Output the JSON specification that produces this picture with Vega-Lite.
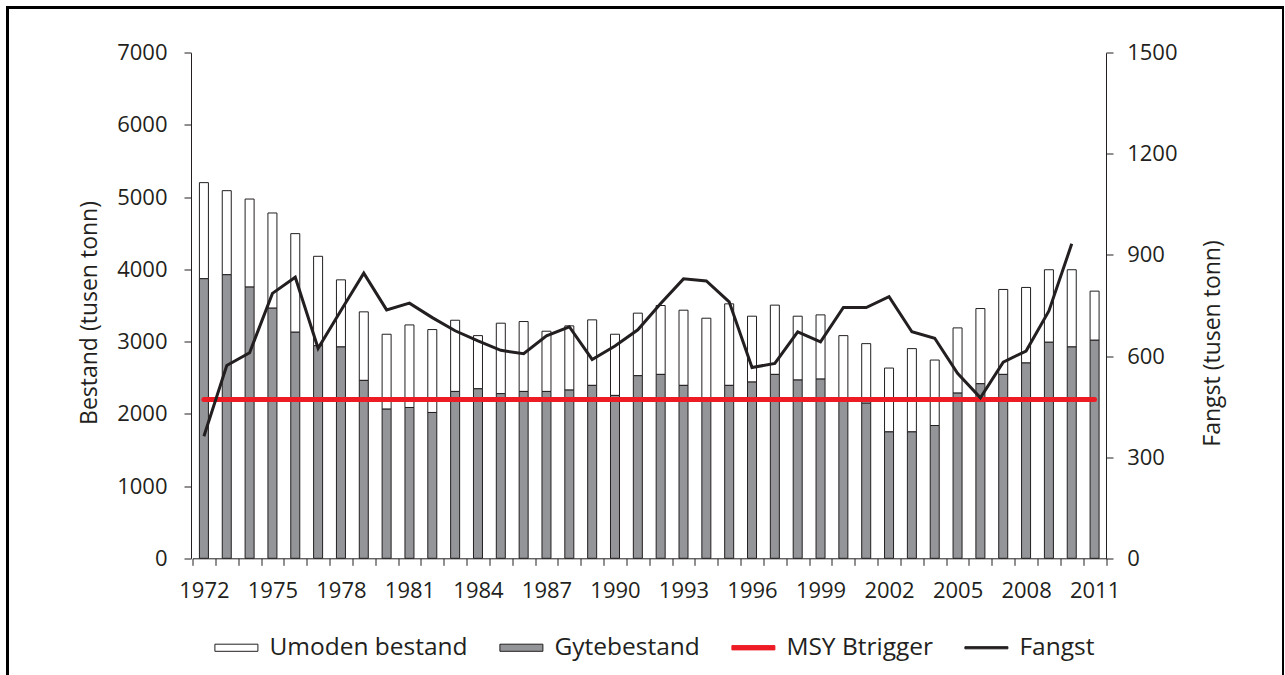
{
  "$schema": "https://vega.github.io/schema/vega-lite/v6.json",
  "width": 1276,
  "height": 667.5,
  "autosize": {"type": "none"},
  "padding": {"left": 7.5, "top": 7.5, "right": 0, "bottom": 0},
  "background": "#ffffff",
  "config": {
    "view": {"stroke": "#000000", "strokeWidth": 3, "strokeDash": [1943.5, 1276, 800]},
    "font": "Open Sans",
    "axis": {
      "labelFont": "Open Sans", "titleFont": "Open Sans",
      "labelColor": "#231f20", "titleColor": "#231f20",
      "domainColor": "#231f20", "tickColor": "#231f20",
      "grid": false, "titleFontWeight": "normal",
      "labelFontSize": 22, "titleFontSize": 23,
      "tickSize": 7, "domainWidth": 1, "tickWidth": 1
    }
  },
  "datasets": {
    "main": [
      {"year": 1972, "total": 5201, "gyte": 3871, "fangst": 362},
      {"year": 1973, "total": 5090, "gyte": 3926, "fangst": 572},
      {"year": 1974, "total": 4974, "gyte": 3755, "fangst": 610},
      {"year": 1975, "total": 4781, "gyte": 3463, "fangst": 786},
      {"year": 1976, "total": 4495, "gyte": 3130, "fangst": 834},
      {"year": 1977, "total": 4181, "gyte": 2944, "fangst": 623},
      {"year": 1978, "total": 3855, "gyte": 2926, "fangst": 735},
      {"year": 1979, "total": 3412, "gyte": 2463, "fangst": 846},
      {"year": 1980, "total": 3102, "gyte": 2065, "fangst": 737},
      {"year": 1981, "total": 3231, "gyte": 2088, "fangst": 757},
      {"year": 1982, "total": 3167, "gyte": 2019, "fangst": 714},
      {"year": 1983, "total": 3296, "gyte": 2310, "fangst": 675},
      {"year": 1984, "total": 3083, "gyte": 2347, "fangst": 645},
      {"year": 1985, "total": 3255, "gyte": 2280, "fangst": 617},
      {"year": 1986, "total": 3278, "gyte": 2310, "fangst": 607},
      {"year": 1987, "total": 3144, "gyte": 2310, "fangst": 660},
      {"year": 1988, "total": 3218, "gyte": 2329, "fangst": 687},
      {"year": 1989, "total": 3301, "gyte": 2394, "fangst": 590},
      {"year": 1990, "total": 3102, "gyte": 2255, "fangst": 630},
      {"year": 1991, "total": 3394, "gyte": 2528, "fangst": 678},
      {"year": 1992, "total": 3500, "gyte": 2546, "fangst": 756},
      {"year": 1993, "total": 3435, "gyte": 2394, "fangst": 829},
      {"year": 1994, "total": 3324, "gyte": 2190, "fangst": 823},
      {"year": 1995, "total": 3523, "gyte": 2394, "fangst": 761},
      {"year": 1996, "total": 3352, "gyte": 2440, "fangst": 566},
      {"year": 1997, "total": 3505, "gyte": 2546, "fangst": 578},
      {"year": 1998, "total": 3352, "gyte": 2468, "fangst": 672},
      {"year": 1999, "total": 3370, "gyte": 2481, "fangst": 642},
      {"year": 2000, "total": 3083, "gyte": 2180, "fangst": 744},
      {"year": 2001, "total": 2972, "gyte": 2148, "fangst": 744},
      {"year": 2002, "total": 2634, "gyte": 1750, "fangst": 776},
      {"year": 2003, "total": 2903, "gyte": 1750, "fangst": 672},
      {"year": 2004, "total": 2745, "gyte": 1838, "fangst": 653},
      {"year": 2005, "total": 3190, "gyte": 2287, "fangst": 549},
      {"year": 2006, "total": 3458, "gyte": 2417, "fangst": 476},
      {"year": 2007, "total": 3722, "gyte": 2546, "fangst": 582},
      {"year": 2008, "total": 3750, "gyte": 2704, "fangst": 615},
      {"year": 2009, "total": 3995, "gyte": 2991, "fangst": 734},
      {"year": 2010, "total": 3995, "gyte": 2926, "fangst": 933},
      {"year": 2011, "total": 3699, "gyte": 3019, "fangst": null}
    ],
    "legend": [
      {"series": "Umoden bestand"},
      {"series": "Gytebestand"},
      {"series": "MSY Btrigger"},
      {"series": "Fangst"}
    ]
  },
  "data": {"name": "main"},
  "layer": [
    {
      "layer": [
        {
          "mark": {"type": "bar", "fill": "#ffffff", "stroke": "#231f20", "strokeWidth": 1, "size": 9},
          "encoding": {
            "x": {"field": "year", "type": "ordinal",
              "scale": {"range": [185, 1098.5], "paddingInner": 0, "paddingOuter": 0},
              "axis": {"offset": -116.7, "tickBand": "extent", "labelExpr": "(datum.value - 1972) % 3 == 0 ? datum.label : ''", "labelAngle": 0, "labelPadding": 14.7, "title": null, "labelOverlap": false}},
            "y": {"field": "total", "type": "quantitative",
              "scale": {"domain": [0, 7000], "range": [550.8, 45.2], "nice": false},
              "axis": {"orient": "left", "offset": -183.5, "values": [0, 1000, 2000, 3000, 4000, 5000, 6000, 7000], "format": "d",
                "title": "Bestand (tusen tonn)", "titleAngle": 270, "titleX": -95, "titleY": 305, "titleBaseline": "alphabetic", "titleAlign": "center", "labelPadding": 17}},
            "y2": {"field": "gyte"}
          }
        },
        {
          "mark": {"type": "bar", "fill": "#939598", "stroke": "#231f20", "strokeWidth": 1, "size": 9},
          "encoding": {
            "x": {"field": "year", "type": "ordinal",
              "scale": {"range": [185, 1098.5], "paddingInner": 0, "paddingOuter": 0},
              "axis": {"offset": -116.7, "tickBand": "extent", "labelExpr": "(datum.value - 1972) % 3 == 0 ? datum.label : ''", "labelAngle": 0, "labelPadding": 14.7, "title": null, "labelOverlap": false}},
            "y": {"field": "gyte", "type": "quantitative",
              "scale": {"domain": [0, 7000], "range": [550.8, 45.2], "nice": false},
              "axis": {"orient": "left", "offset": -183.5, "values": [0, 1000, 2000, 3000, 4000, 5000, 6000, 7000], "format": "d",
                "title": "Bestand (tusen tonn)", "titleAngle": 270, "titleX": -95, "titleY": 305, "titleBaseline": "alphabetic", "titleAlign": "center", "labelPadding": 17}}
          }
        },
        {
          "mark": {"type": "line", "color": "#ed1c24", "strokeWidth": 5, "strokeCap": "round"},
          "encoding": {
            "x": {"field": "year", "type": "ordinal",
              "scale": {"range": [185, 1098.5], "paddingInner": 0, "paddingOuter": 0},
              "axis": {"offset": -116.7, "tickBand": "extent", "labelExpr": "(datum.value - 1972) % 3 == 0 ? datum.label : ''", "labelAngle": 0, "labelPadding": 14.7, "title": null, "labelOverlap": false}},
            "y": {"datum": 2200, "type": "quantitative",
              "scale": {"domain": [0, 7000], "range": [550.8, 45.2], "nice": false},
              "axis": {"orient": "left", "offset": -183.5, "values": [0, 1000, 2000, 3000, 4000, 5000, 6000, 7000], "format": "d",
                "title": "Bestand (tusen tonn)", "titleAngle": 270, "titleX": -95, "titleY": 305, "titleBaseline": "alphabetic", "titleAlign": "center", "labelPadding": 17}}
          }
        }
      ]
    },
    {
      "mark": {"type": "line", "color": "#231f20", "strokeWidth": 3},
      "encoding": {
        "x": {"field": "year", "type": "ordinal",
          "scale": {"range": [185, 1098.5], "paddingInner": 0, "paddingOuter": 0},
          "axis": {"offset": -116.7, "tickBand": "extent", "labelExpr": "(datum.value - 1972) % 3 == 0 ? datum.label : ''", "labelAngle": 0, "labelPadding": 14.7, "title": null, "labelOverlap": false}},
        "y": {"field": "fangst", "type": "quantitative",
          "scale": {"domain": [0, 1500], "range": [550.8, 45.2], "nice": false},
          "axis": {"orient": "right", "offset": -177.5, "values": [0, 300, 600, 900, 1200, 1500], "format": "d",
            "title": "Fangst (tusen tonn)", "titleAngle": 270, "titleX": 113.5, "titleY": 335.5, "titleBaseline": "alphabetic", "titleAlign": "center", "labelPadding": 13.7}}
      }
    },
    {
      "data": {"name": "legend"},
      "mark": {"type": "point", "opacity": 0, "filled": true},
      "encoding": {
        "fill": {"field": "series", "type": "nominal",
          "scale": {"domain": ["Umoden bestand", "Gytebestand", "MSY Btrigger", "Fangst"], "range": ["#ffffff", "#939598", "#ed1c24", "#231f20"]},
          "legend": {"orient": "none", "legendX": 206.9, "legendY": 618, "direction": "horizontal", "title": null,
            "symbolSize": 1849, "symbolStrokeWidth": 1, "symbolOpacity": 1, "labelFont": "Open Sans", "labelFontSize": 24.5,
            "labelColor": "#231f20", "labelOffset": 11, "columnPadding": 29, "padding": 0, "labelLimit": 400,
            "encode": {"symbols": {"update": {"fill": {"scale": "fill", "field": "value"}, "fillOpacity": {"value": 1}, "opacity": {"value": 1}}}}}},
        "stroke": {"field": "series", "type": "nominal",
          "scale": {"domain": ["Umoden bestand", "Gytebestand", "MSY Btrigger", "Fangst"], "range": ["#231f20", "#231f20", "#ed1c24", "#231f20"]}},
        "shape": {"field": "series", "type": "nominal",
          "scale": {"domain": ["Umoden bestand", "Gytebestand", "MSY Btrigger", "Fangst"], "range": ["M-1,-0.165H1V0.165H-1Z", "M-1,-0.165H1V0.165H-1Z", "M-1,-0.1H1V0.1H-1Z", "M-1,-0.05H1V0.05H-1Z"]}}
      }
    }
  ],
  "resolve": {"scale": {"y": "independent"}}
}
